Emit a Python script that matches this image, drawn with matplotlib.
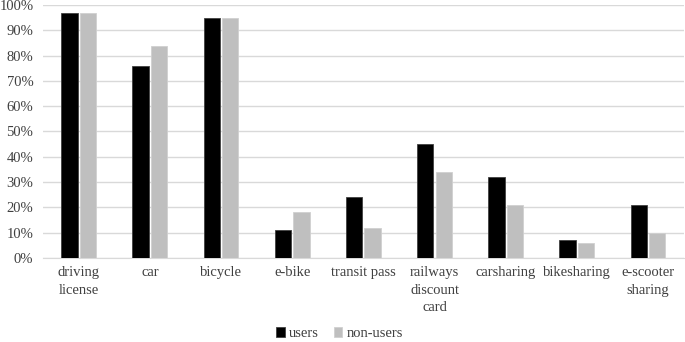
import numpy as np
import matplotlib.pyplot as plt

plt.rcParams['font.family'] = ['Liberation Serif', 'DejaVu Serif']

# Share of respondents owning each item
categories = [
    "driving\nlicense", "car", "bicycle", "e-bike", "transit pass",
    "railways\ndiscount\ncard", "carsharing", "bikesharing", "e-scooter\nsharing"
]
users = [97, 76, 95, 11, 24, 45, 32, 7, 21]
non_users = [97, 84, 95, 18, 12, 34, 21, 6, 10]

fig = plt.figure(figsize=(6.85, 3.42), dpi=100)
ax = fig.add_axes([0.063, 0.246, 0.935, 0.739])

x = np.arange(len(categories))
width = 0.23
gap = 0.03

ax.bar(x - width / 2 - gap / 2, users, width, color="black",
       edgecolor="#404040", linewidth=0.6, label="users", zorder=3)
ax.bar(x + width / 2 + gap / 2, non_users, width, color="#BFBFBF",
       edgecolor="#D0D0D0", linewidth=0.6, label="non-users", zorder=3)

ax.set_xlim(-0.5, len(categories) - 0.5)
ax.set_ylim(0, 100)
ax.set_yticks(np.arange(0, 101, 10))
ax.set_yticklabels([f"{v}%" for v in range(0, 101, 10)])
ax.yaxis.grid(True, color="#D9D9D9", linewidth=1.0, zorder=0)

ax.set_xticks(x)
ax.set_xticklabels(categories, linespacing=1.45)
ax.tick_params(axis="both", length=0, labelsize=10.5, colors="#404040")
ax.tick_params(axis="x", pad=6)
ax.tick_params(axis="y", pad=7)

for s in ["top", "right", "left"]:
    ax.spines[s].set_visible(False)
ax.spines["bottom"].set_color("#D9D9D9")

ax.legend(loc="center", bbox_to_anchor=(0.463, -0.30), ncol=2,
          frameon=False, fontsize=10.5, handlelength=0.6, handleheight=0.6,
          handletextpad=0.3, columnspacing=1.0, labelcolor="#404040")

fig.savefig("out.png", dpi=100)
